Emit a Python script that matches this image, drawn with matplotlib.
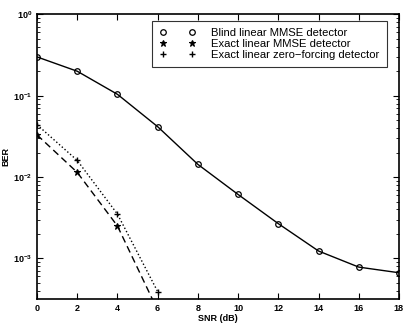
import matplotlib
matplotlib.use("Agg")
import matplotlib.pyplot as plt
import numpy as np

plt.rcParams['font.family'] = ['Liberation Sans', 'DejaVu Sans']

snr = [0, 2, 4, 6, 8, 10, 12, 14, 16, 18]
blind_mmse = [0.30, 0.20, 0.104, 0.0416, 0.0143, 0.0061, 0.00267, 0.00123, 0.00078, 0.000665]
snr_exact = [0, 2, 4, 6]
exact_mmse = [0.033, 0.0114, 0.0025, 0.00023]
exact_zf = [0.044, 0.016, 0.0035, 0.00039]

fig = plt.figure(figsize=(4.09, 3.31), dpi=100)
ax = fig.add_axes([0.0905, 0.0967, 0.885, 0.8598])

ax.plot(snr, blind_mmse, '-', color='black', lw=1.0)
ax.plot(snr, blind_mmse, 'o', color='black', mfc='none', ms=4, mew=0.9, label='Blind linear MMSE detector')
ax.plot(snr_exact, exact_mmse, '--', color='black', lw=1.0, dashes=(5, 3))
ax.plot(snr_exact, exact_mmse, '*', color='black', ms=5, mew=0.8, label='Exact linear MMSE detector')
ax.plot(snr_exact, exact_zf, ':', color='black', lw=1.0)
ax.plot(snr_exact, exact_zf, '+', color='black', ms=5, mew=1.0, label='Exact linear zero\u2212forcing detector')

ax.set_yscale('log')
ax.set_xlim(0, 18)
ax.set_ylim(10**-3.5, 1)
ax.set_xticks(range(0, 19, 2))
ax.set_yticks([1e-3, 1e-2, 1e-1, 1e0])
ax.tick_params(which='both', direction='in', top=True, right=True, labelsize=6.5)
ax.tick_params(which='major', length=4, width=0.8)
ax.tick_params(which='minor', length=2, width=0.6)
for lab in ax.get_xticklabels() + ax.get_yticklabels():
    lab.set_fontweight('bold')
for s in ax.spines.values():
    s.set_linewidth(1.2)

ax.set_xlabel('SNR (dB)', fontsize=6.5, fontweight='bold', labelpad=1)
ax.set_ylabel('BER', fontsize=6.5, fontweight='bold', labelpad=2)

leg = ax.legend(loc='upper right', bbox_to_anchor=(0.967, 0.977), fontsize=8.1,
                numpoints=2, handlelength=3.2, frameon=True, fancybox=False,
                edgecolor='black', borderpad=0.65, labelspacing=0.08,
                handletextpad=1.4, borderaxespad=0.0)
leg.get_frame().set_linewidth(0.8)

fig.savefig('out.png', dpi=100)
